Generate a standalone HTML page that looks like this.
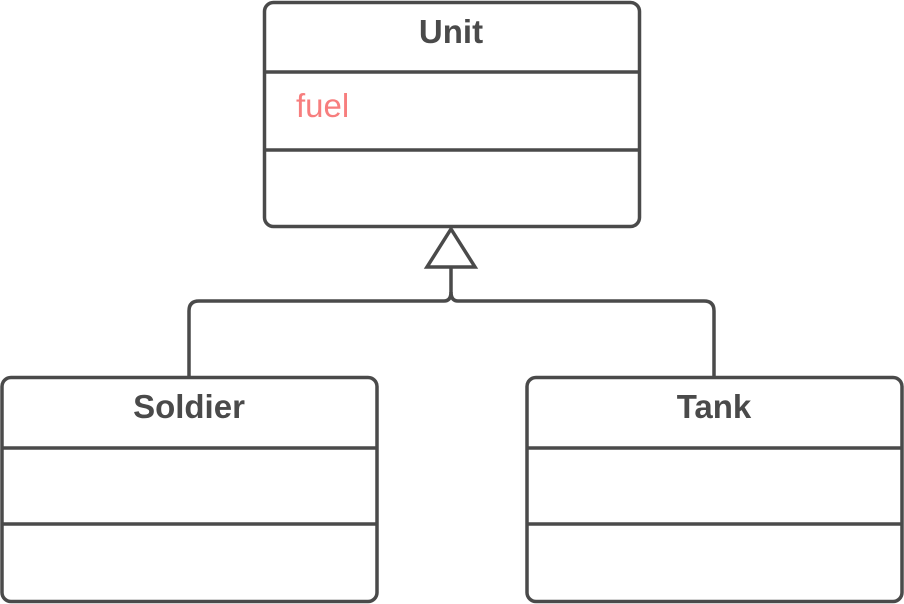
<!DOCTYPE html>
<html><head><style>
body{margin:0;background:#fff;}
svg{display:block}
</style></head><body>
<svg width="904" height="604" xmlns="http://www.w3.org/2000/svg">
<g fill="none" stroke="#4a4a4a" stroke-width="3.5">
<rect x="264.5" y="2.5" width="375" height="224" rx="9"/>
<line x1="264.5" y1="72" x2="639.5" y2="72"/>
<line x1="264.5" y1="150" x2="639.5" y2="150"/>
<rect x="2" y="377.5" width="375" height="224" rx="9"/>
<line x1="2" y1="448" x2="377" y2="448"/>
<line x1="2" y1="524" x2="377" y2="524"/>
<rect x="527" y="377.5" width="375" height="224" rx="9"/>
<line x1="527" y1="448" x2="902" y2="448"/>
<line x1="527" y1="524" x2="902" y2="524"/>
<polygon points="451,229 427,267 475,267" fill="#fff"/>
<path d="M451 267 V292 Q451 301 444 301 H199 Q189 301 189 311 V377"/>
<path d="M451 292 Q451 301 458 301 H704 Q714 301 714 311 V377"/>
</g>
<g font-family="Liberation Sans, sans-serif" font-weight="bold" font-size="33" fill="#4a4a4a" text-anchor="middle">
<text x="451" y="43">Unit</text>
<text x="189" y="418">Soldier</text>
<text x="714" y="418">Tank</text>
</g>
<text x="296" y="117" font-family="Liberation Sans, sans-serif" font-size="33" fill="#f77e7e">fuel</text>
</svg>
</body></html>
